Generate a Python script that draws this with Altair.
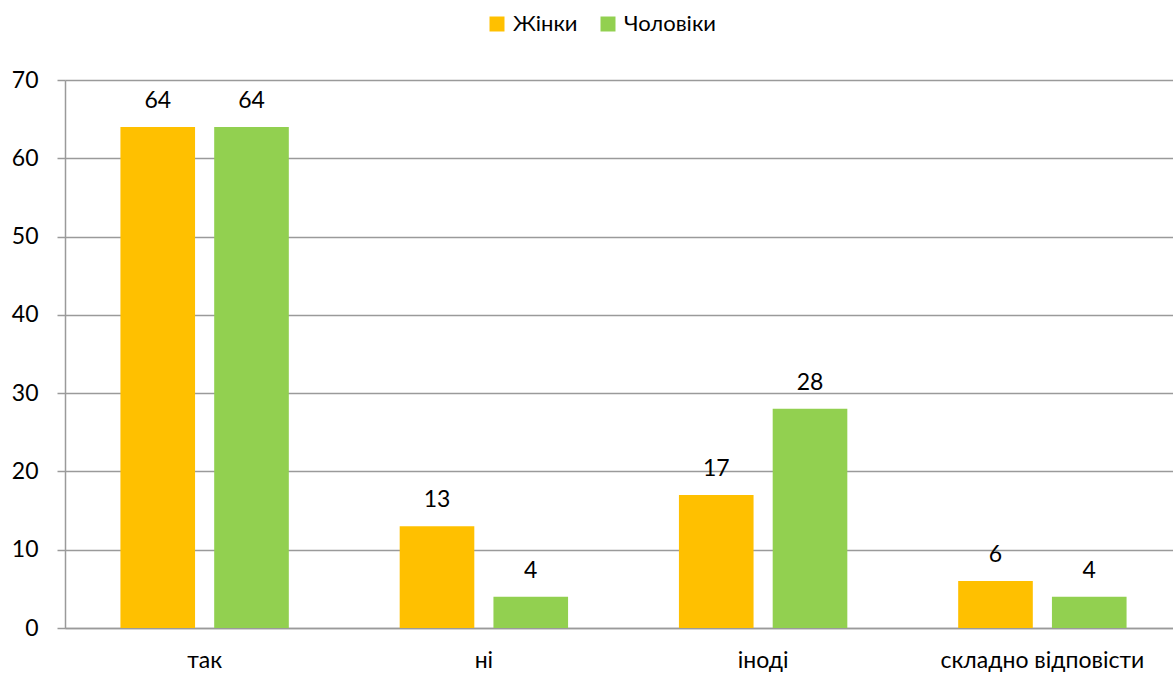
import altair as alt
import pandas as pd

categories = ["так", "ні", "іноді", "складно відповісти"]
series = ["Жінки", "Чоловіки"]
women = [64, 13, 17, 6]
men = [64, 4, 28, 4]
colors = ["#FFC000", "#92D050"]

rows = []
for c, w, m in zip(categories, women, men):
    rows.append({"cat": c, "series": series[0], "value": w})
    rows.append({"cat": c, "series": series[1], "value": m})
df = pd.DataFrame(rows)

FONT = "Lato"
FS = 23

x = alt.X("cat:N", sort=categories, title=None,
          scale=alt.Scale(paddingInner=0.397, paddingOuter=0.1985, range=[0, 1117]),
          axis=alt.Axis(labelAngle=0, ticks=False, labelPadding=21, labelFontSize=FS,
                        labelFont=FONT, labelColor="#000000", domainColor="#9A9A9A",
                        domainWidth=1.5, grid=False, labelLimit=400))
xoff = alt.XOffset("series:N", sort=series,
                   scale=alt.Scale(paddingInner=0.204, paddingOuter=0))

base = alt.Chart(df)

bars = base.mark_bar().encode(
    x=x,
    xOffset=xoff,
    y=alt.Y("value:Q", title=None,
            scale=alt.Scale(domain=[0, 70]),
            axis=alt.Axis(values=[0, 10, 20, 30, 40, 50, 60, 70], tickSize=8,
                          tickColor="#9A9A9A", tickWidth=1.5, domainColor="#9A9A9A",
                          domainWidth=1.5, gridColor="#9A9A9A", gridWidth=1.5,
                          labelFontSize=FS, labelFont=FONT, labelColor="#000000",
                          labelPadding=19)),
    color=alt.Color("series:N", sort=series,
                    scale=alt.Scale(domain=series, range=colors),
                    legend=alt.Legend(title=None, orient="none", direction="horizontal",
                                      legendX=421, legendY=-67, symbolType="square",
                                      symbolSize=225, symbolStrokeWidth=0,
                                      labelFontSize=22, labelFont=FONT,
                                      labelColor="#000000", labelOffset=5,
                                      columnPadding=19)),
)

labels = base.mark_text(baseline="bottom", dy=-14, fontSize=FS, font=FONT,
                        color="#000000").encode(
    x=alt.X("cat:N", sort=categories),
    xOffset=xoff,
    y="value:Q",
    text="value:Q",
)

chart = (bars + labels).properties(
    width=1108, height=548,
    autosize=alt.AutoSizeParams(type="none"),
    padding={"left": 65, "top": 80, "right": 0, "bottom": 47},
).configure_view(stroke=None).configure_axis(gridOpacity=1)

chart.save("out.html", embed_options={"renderer": "svg", "actions": False})
